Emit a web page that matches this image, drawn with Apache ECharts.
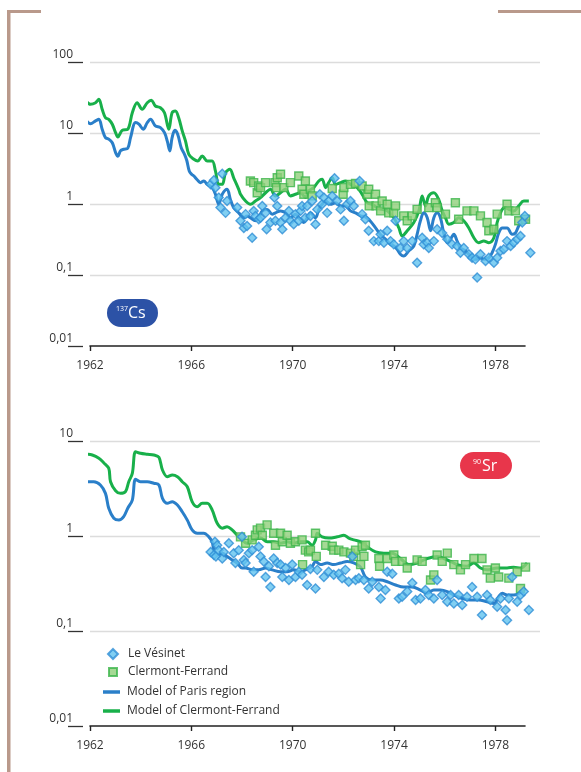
<!DOCTYPE html>
<html>
<head>
<meta charset="utf-8">
<script src="https://cdn.jsdelivr.net/npm/echarts@6/dist/echarts.min.js"></script>
<style>
  html, body { margin: 0; padding: 0; background: #fff; }
  #chart { width: 581px; height: 772px; }
</style>
</head>
<body>
<div id="chart"></div>
<script>
// year ticks shown on both x axes
var yearTicks = [1962, 1966, 1970, 1974, 1978];
var legendNames = ["Le Vésinet", "Clermont-Ferrand", "Model of Paris region", "Model of Clermont-Ferrand"];

// ---- 137Cs panel : [year, activity]
var csParisModel = [[1961.82,15.6],[1962.02,13.5],[1962.22,14.8],[1962.35,15.6],[1962.48,11.3],[1962.61,8.6],[1962.74,8.2],[1962.88,7.3],[1963.01,5.3],[1963.10,4.7],[1963.20,5.6],[1963.33,5.9],[1963.49,6.1],[1963.60,8.6],[1963.80,14.0],[1963.93,13.3],[1964.10,11.3],[1964.26,14.0],[1964.39,15.6],[1964.58,12.6],[1964.78,11.9],[1964.94,10.1],[1965.05,7.7],[1965.15,5.6],[1965.24,8.6],[1965.35,10.9],[1965.46,9.6],[1965.60,6.2],[1965.73,5.0],[1965.82,4.1],[1965.92,2.9],[1966.02,2.6],[1966.10,2.48],[1966.23,2.2],[1966.36,2.0],[1966.49,2.11],[1966.63,1.89],[1966.82,1.70],[1966.95,1.37],[1967.08,0.99],[1967.22,1.37],[1967.41,1.61],[1967.54,1.16],[1967.67,0.89],[1967.87,0.75],[1968.07,0.64],[1968.20,0.68],[1968.33,0.64],[1968.53,0.58],[1968.66,0.64],[1968.80,0.80],[1968.99,0.84],[1969.19,0.72],[1969.32,0.75],[1969.52,0.80],[1969.72,0.75],[1969.91,0.64],[1970.11,0.72],[1970.24,0.64],[1970.44,0.55],[1970.57,0.64],[1970.70,0.75],[1970.90,0.64],[1971.03,0.84],[1971.16,0.99],[1971.30,1.10],[1971.49,0.99],[1971.69,1.04],[1971.89,0.94],[1972.08,0.94],[1972.28,0.80],[1972.48,0.75],[1972.68,0.68],[1972.87,0.66],[1973.07,0.57],[1973.27,0.46],[1973.47,0.37],[1973.66,0.32],[1973.86,0.27],[1973.99,0.256],[1974.12,0.23],[1974.25,0.196],[1974.38,0.185],[1974.58,0.218],[1974.78,0.256],[1974.91,0.374],[1975.04,0.58],[1975.17,0.75],[1975.31,0.64],[1975.44,0.42],[1975.57,0.64],[1975.70,0.75],[1975.83,0.64],[1975.96,0.39],[1976.10,0.285],[1976.23,0.32],[1976.36,0.374],[1976.49,0.30],[1976.62,0.24],[1976.82,0.218],[1977.02,0.185],[1977.21,0.166],[1977.41,0.175],[1977.54,0.166],[1977.74,0.175],[1977.87,0.206],[1978.00,0.27],[1978.13,0.39],[1978.27,0.46],[1978.46,0.46],[1978.66,0.374],[1978.79,0.39],[1978.92,0.49],[1979.06,0.58],[1979.19,0.61],[1979.32,0.58]];

var csClermontModel = [[1961.82,28.9],[1962.02,25.4],[1962.22,26.7],[1962.35,29.8],[1962.48,21.6],[1962.61,16.4],[1962.74,15.6],[1962.88,13.3],[1963.01,10.1],[1963.10,8.8],[1963.27,10.9],[1963.49,11.3],[1963.67,19.3],[1963.86,26.7],[1964.06,21.6],[1964.26,26.7],[1964.42,28.9],[1964.58,24.0],[1964.78,22.7],[1964.94,19.3],[1965.11,11.3],[1965.24,19.3],[1965.37,20.4],[1965.50,16.4],[1965.64,10.7],[1965.77,7.7],[1965.90,5.0],[1966.10,4.26],[1966.25,4.03],[1966.43,4.74],[1966.63,4.03],[1966.82,4.03],[1966.95,2.92],[1967.08,1.89],[1967.22,1.89],[1967.35,2.76],[1967.52,3.08],[1967.67,2.34],[1967.87,1.61],[1967.94,1.37],[1968.14,1.10],[1968.33,0.99],[1968.53,1.10],[1968.73,1.23],[1968.93,1.44],[1969.12,1.61],[1969.32,1.30],[1969.52,1.44],[1969.72,1.61],[1969.91,1.30],[1970.11,1.37],[1970.31,1.44],[1970.50,1.23],[1970.63,1.52],[1970.83,1.70],[1971.03,2.11],[1971.16,2.23],[1971.30,1.70],[1971.42,2.0],[1971.56,2.34],[1971.69,1.89],[1971.89,2.0],[1972.08,2.11],[1972.28,1.89],[1972.54,1.70],[1972.74,1.37],[1972.94,1.04],[1973.14,0.99],[1973.33,0.89],[1973.53,0.84],[1973.73,0.80],[1973.99,0.64],[1974.19,0.46],[1974.32,0.354],[1974.52,0.42],[1974.78,0.55],[1974.98,0.80],[1975.11,1.30],[1975.24,0.94],[1975.37,1.30],[1975.57,1.44],[1975.76,1.16],[1975.90,0.80],[1976.03,0.64],[1976.16,0.52],[1976.36,0.55],[1976.55,0.64],[1976.75,0.58],[1976.95,0.46],[1977.15,0.335],[1977.34,0.285],[1977.54,0.30],[1977.74,0.285],[1977.94,0.335],[1978.07,0.55],[1978.20,0.75],[1978.36,0.89],[1978.53,0.84],[1978.72,0.80],[1978.92,0.94],[1979.12,1.10],[1979.32,1.10]];

var csVesinet = [[1966.76,1.89],[1966.89,2.16],[1966.95,1.70],[1967.08,1.23],[1967.15,0.89],[1967.22,2.67],[1967.35,0.75],[1967.41,1.10],[1967.81,0.89],[1967.94,0.58],[1968.07,0.46],[1968.14,0.72],[1968.20,0.49],[1968.40,0.335],[1968.46,0.80],[1968.53,0.68],[1968.66,0.61],[1968.73,0.64],[1968.80,0.94],[1968.93,0.75],[1968.97,0.44],[1969.12,0.55],[1969.28,1.23],[1969.32,0.58],[1969.39,0.94],[1969.52,0.55],[1969.59,0.44],[1969.72,0.64],[1969.85,0.80],[1969.91,0.58],[1970.04,0.52],[1970.11,0.72],[1970.24,0.58],[1970.31,0.80],[1970.37,0.94],[1970.50,0.64],[1970.57,0.94],[1970.70,0.68],[1970.77,1.10],[1970.90,0.52],[1970.97,0.84],[1971.07,1.37],[1971.16,0.99],[1971.23,1.23],[1971.36,0.75],[1971.42,1.10],[1971.56,1.30],[1971.65,2.30],[1971.76,1.10],[1971.89,0.84],[1972.02,0.58],[1972.15,0.99],[1972.28,1.10],[1972.41,0.94],[1972.64,2.11],[1972.74,0.72],[1972.87,0.61],[1973.00,0.42],[1973.20,0.30],[1973.40,0.30],[1973.47,0.374],[1973.60,0.285],[1973.73,0.42],[1973.86,0.30],[1973.99,0.27],[1974.06,0.58],[1974.25,0.24],[1974.38,0.30],[1974.52,0.24],[1974.72,0.30],[1974.91,0.149],[1975.11,0.335],[1975.17,0.27],[1975.31,0.285],[1975.37,0.24],[1975.57,0.30],[1975.70,0.44],[1975.90,0.39],[1976.10,0.32],[1976.29,0.27],[1976.49,0.256],[1976.62,0.206],[1976.75,0.24],[1976.95,0.196],[1977.08,0.175],[1977.21,0.166],[1977.28,0.092],[1977.41,0.196],[1977.61,0.157],[1977.74,0.175],[1977.94,0.149],[1978.07,0.175],[1978.20,0.218],[1978.33,0.23],[1978.46,0.30],[1978.60,0.256],[1978.72,0.285],[1978.86,0.32],[1978.99,0.354],[1979.06,0.55],[1979.16,0.68],[1979.38,0.206]];

var csClermont = [[1968.33,2.11],[1968.46,2.0],[1968.60,1.44],[1968.66,1.79],[1968.73,1.70],[1968.93,2.0],[1969.30,2.0],[1969.36,1.70],[1969.39,2.34],[1969.52,2.62],[1969.65,1.70],[1969.91,2.0],[1970.24,2.48],[1970.37,1.61],[1970.44,1.37],[1970.50,2.11],[1970.70,1.61],[1970.77,1.30],[1971.56,1.65],[1971.99,1.37],[1972.02,1.70],[1972.28,1.89],[1972.48,1.94],[1972.74,1.79],[1972.94,1.37],[1973.00,1.61],[1973.02,0.94],[1973.27,1.37],[1973.29,0.94],[1973.47,0.80],[1973.53,1.10],[1973.73,0.99],[1973.79,0.75],[1973.99,0.75],[1974.06,0.94],[1974.38,0.68],[1974.52,0.58],[1974.72,0.68],[1974.91,0.84],[1975.37,0.89],[1975.63,1.04],[1975.70,0.89],[1976.03,0.72],[1976.42,1.04],[1976.55,0.61],[1976.88,0.80],[1977.15,0.80],[1977.41,0.68],[1977.67,0.55],[1977.74,0.42],[1977.94,0.44],[1978.07,0.72],[1978.46,0.99],[1978.53,0.80],[1978.79,0.80],[1978.92,0.58],[1979.19,0.61]];

// ---- 90Sr panel : [year, activity]
var srParisModel = [[1961.89,3.73],[1962.15,3.73],[1962.41,3.44],[1962.61,2.81],[1962.74,1.96],[1962.94,1.54],[1963.14,1.47],[1963.33,1.60],[1963.49,1.96],[1963.67,2.39],[1963.80,3.95],[1963.99,3.73],[1964.26,3.73],[1964.52,3.59],[1964.72,3.44],[1964.86,2.49],[1965.05,2.21],[1965.25,2.30],[1965.45,2.12],[1965.64,1.80],[1965.84,1.47],[1966.03,1.16],[1966.23,1.07],[1966.49,1.07],[1966.69,0.98],[1966.82,0.87],[1966.89,0.71],[1967.02,0.63],[1967.22,0.66],[1967.41,0.61],[1967.61,0.56],[1967.81,0.52],[1968.00,0.46],[1968.14,0.46],[1968.40,0.44],[1968.66,0.44],[1968.93,0.46],[1969.19,0.44],[1969.52,0.42],[1969.78,0.42],[1970.04,0.44],[1970.31,0.42],[1970.50,0.44],[1970.77,0.48],[1970.90,0.54],[1971.10,0.50],[1971.36,0.52],[1971.62,0.50],[1971.89,0.52],[1972.15,0.54],[1972.41,0.52],[1972.68,0.47],[1972.87,0.37],[1973.14,0.344],[1973.47,0.344],[1973.73,0.33],[1974.06,0.305],[1974.38,0.29],[1974.72,0.29],[1975.04,0.27],[1975.31,0.25],[1975.57,0.27],[1975.83,0.27],[1976.10,0.26],[1976.36,0.239],[1976.69,0.22],[1977.02,0.212],[1977.34,0.212],[1977.67,0.203],[1977.94,0.195],[1978.13,0.23],[1978.27,0.249],[1978.46,0.239],[1978.72,0.239],[1978.92,0.249],[1979.19,0.28]];

var srClermontModel = [[1961.89,7.25],[1962.09,7.12],[1962.35,6.58],[1962.54,5.91],[1962.74,5.16],[1962.81,3.73],[1963.01,3.0],[1963.20,2.81],[1963.40,2.93],[1963.53,3.73],[1963.67,4.57],[1963.80,7.71],[1963.99,7.42],[1964.26,7.25],[1964.52,7.12],[1964.72,6.74],[1964.86,4.95],[1965.05,4.21],[1965.25,4.39],[1965.45,4.21],[1965.64,3.73],[1965.84,3.30],[1966.03,2.30],[1966.23,2.03],[1966.43,2.21],[1966.63,2.21],[1966.82,1.88],[1967.02,1.36],[1967.22,1.21],[1967.41,1.25],[1967.61,1.16],[1967.81,1.02],[1967.94,0.95],[1968.20,0.84],[1968.46,0.91],[1968.73,0.95],[1968.99,0.87],[1969.25,0.87],[1969.52,0.84],[1969.78,0.87],[1970.04,0.84],[1970.31,0.87],[1970.57,0.87],[1970.77,0.80],[1970.90,0.91],[1970.97,1.07],[1971.16,0.98],[1971.42,0.95],[1971.76,0.98],[1972.02,1.02],[1972.21,0.95],[1972.41,0.91],[1972.68,0.87],[1972.94,0.77],[1973.27,0.68],[1973.60,0.66],[1973.93,0.66],[1974.25,0.58],[1974.58,0.50],[1974.91,0.52],[1975.31,0.58],[1975.70,0.61],[1975.96,0.58],[1976.23,0.54],[1976.49,0.50],[1976.88,0.48],[1977.15,0.52],[1977.41,0.46],[1977.67,0.44],[1978.07,0.46],[1978.46,0.46],[1978.72,0.47],[1978.99,0.46],[1979.25,0.52]];

var srVesinet = [[1966.76,0.68],[1966.89,0.63],[1966.93,0.87],[1966.97,0.61],[1967.02,0.80],[1967.08,0.71],[1967.22,0.58],[1967.28,0.68],[1967.48,0.84],[1967.67,0.66],[1967.74,0.52],[1967.87,0.71],[1968.00,0.98],[1968.07,0.56],[1968.14,0.52],[1968.27,0.66],[1968.40,0.71],[1968.46,0.42],[1968.66,0.77],[1968.73,0.61],[1968.86,0.54],[1968.93,0.37],[1969.06,0.48],[1969.12,0.29],[1969.25,0.58],[1969.39,0.52],[1969.52,0.50],[1969.59,0.37],[1969.72,0.46],[1969.85,0.344],[1969.98,0.50],[1970.11,0.37],[1970.24,0.42],[1970.37,0.39],[1970.57,0.305],[1970.70,0.45],[1970.90,0.28],[1970.97,0.44],[1971.23,0.37],[1971.42,0.42],[1971.62,0.39],[1971.82,0.40],[1971.95,0.36],[1972.08,0.44],[1972.21,0.33],[1972.35,0.61],[1972.48,0.344],[1972.61,0.36],[1972.81,0.344],[1973.00,0.28],[1973.14,0.33],[1973.40,0.29],[1973.47,0.22],[1973.66,0.27],[1973.73,0.42],[1973.93,0.40],[1974.19,0.22],[1974.32,0.23],[1974.52,0.26],[1974.72,0.32],[1974.85,0.212],[1975.04,0.22],[1975.24,0.27],[1975.37,0.239],[1975.57,0.22],[1975.70,0.344],[1975.90,0.239],[1976.10,0.203],[1976.23,0.239],[1976.36,0.195],[1976.55,0.239],[1976.69,0.188],[1976.88,0.23],[1977.08,0.29],[1977.28,0.23],[1977.47,0.147],[1977.67,0.239],[1977.80,0.212],[1978.07,0.18],[1978.20,0.22],[1978.40,0.166],[1978.46,0.13],[1978.53,0.22],[1978.66,0.37],[1978.86,0.203],[1978.99,0.239],[1979.12,0.26],[1979.32,0.166]];

var srClermont = [[1967.94,0.98],[1968.14,0.84],[1968.40,0.91],[1968.53,1.02],[1968.60,1.16],[1968.73,1.21],[1968.80,1.02],[1968.99,1.31],[1969.25,1.07],[1969.32,0.80],[1969.52,1.07],[1969.59,0.87],[1969.78,1.02],[1969.91,0.84],[1970.11,0.87],[1970.37,0.91],[1970.39,0.50],[1970.50,0.71],[1970.63,0.68],[1970.70,0.71],[1970.90,1.07],[1970.93,0.61],[1971.30,0.80],[1971.56,0.78],[1971.62,0.71],[1971.82,0.71],[1972.02,0.68],[1972.28,0.66],[1972.41,0.61],[1972.48,0.71],[1972.68,0.50],[1972.74,0.77],[1972.81,0.61],[1972.87,0.80],[1973.40,0.58],[1973.43,0.48],[1973.73,0.58],[1973.99,0.63],[1974.06,0.54],[1974.32,0.54],[1974.52,0.46],[1974.91,0.56],[1975.11,0.54],[1975.44,0.344],[1975.57,0.39],[1975.70,0.63],[1975.90,0.54],[1976.10,0.66],[1976.36,0.50],[1976.62,0.44],[1976.82,0.50],[1977.15,0.58],[1977.47,0.58],[1977.67,0.44],[1977.80,0.36],[1978.00,0.46],[1978.13,0.37],[1978.53,0.36],[1978.86,0.42],[1978.99,0.28],[1979.19,0.47]];

var BLUE = "#2a7fc9";
var GREEN = "#18b04a";
var TEXT = "#333333";
var FONT = "Open Sans";

function fmtLog(v) {
  return String(+Number(v).toPrecision(3)).replace(".", ",");
}

// grid pairs: data/grid-lines grid (wide) + x-axis grid (axis line ends earlier)
function panelAxes(top, height, logMax, gi) {
  return {
    grids: [
      { left: 90, right: 41, top: top, height: height },
      { left: 90, width: 435, top: top, height: height }
    ],
    xAxes: [
      { type: "value", gridIndex: gi, min: 1962, max: 1979.76, show: false },
      {
        type: "value", gridIndex: gi + 1, min: 1962, max: 1979.17, interval: 4,
        axisLine: { show: true, lineStyle: { color: "#222", width: 1.6 } },
        axisTick: { show: true, length: 5, customValues: yearTicks, lineStyle: { color: "#222", width: 1.4 } },
        axisLabel: {
          customValues: yearTicks, margin: 14, color: TEXT, fontSize: 12, fontFamily: FONT,
          formatter: function (v) { return String(Math.round(v)); }
        },
        splitLine: { show: false }
      }
    ],
    yAxes: [
      {
        type: "log", logBase: 10, gridIndex: gi, min: 0.01, max: logMax, offset: 7,
        axisLine: { show: false },
        axisTick: { show: true, length: 15, lineStyle: { color: "#333", width: 1.3 } },
        axisLabel: {
          margin: 10, color: TEXT, fontSize: 12, fontFamily: FONT,
          verticalAlign: "bottom", lineHeight: 14, formatter: fmtLog
        },
        splitLine: { show: true, showMinLine: false, lineStyle: { color: "#dcdcdc", width: 1.3 } }
      },
      { type: "log", logBase: 10, gridIndex: gi + 1, min: 0.01, max: logMax, show: false }
    ]
  };
}

function lineSeries(name, data, color, xi) {
  return {
    name: name, type: "line", xAxisIndex: xi, yAxisIndex: xi, data: data,
    symbol: "none", smooth: 0.35, clip: false, z: 2,
    lineStyle: { color: color, width: 3 }, itemStyle: { color: color }
  };
}

function diamondSeries(data, xi) {
  return {
    name: legendNames[0], type: "scatter", xAxisIndex: xi, yAxisIndex: xi, data: data,
    symbol: "diamond", symbolSize: 9, clip: false, z: 4,
    itemStyle: { color: "#62c3ef", borderColor: "#2f8fd6", borderWidth: 1.4 }
  };
}

function squareSeries(data, xi) {
  return {
    name: legendNames[1], type: "scatter", xAxisIndex: xi, yAxisIndex: xi, data: data,
    symbol: "rect", symbolSize: 8, clip: false, z: 3,
    itemStyle: { color: "#90d07a", borderColor: "#3cb54b", borderWidth: 1.4 }
  };
}

// one legend block per row so every icon keeps its own size
function legendRow(name, icon, left, top, w, h, pad) {
  return {
    data: [{ name: name, icon: icon }],
    orient: "vertical", left: left, top: top,
    itemWidth: w, itemHeight: h, padding: 0,
    textStyle: { color: TEXT, fontSize: 12, fontFamily: FONT, lineHeight: 14, padding: [0, 0, 0, pad] }
  };
}

var topP = panelAxes(62, 284, 100, 0);
var botP = panelAxes(441, 285, 10, 2);

var chart = echarts.init(document.getElementById("chart"), null, { renderer: "canvas" });

var option = {
  backgroundColor: "#fff",
  animation: false,
  grid: topP.grids.concat(botP.grids),
  xAxis: topP.xAxes.concat(botP.xAxes),
  yAxis: topP.yAxes.concat(botP.yAxes),
  legend: [
    legendRow(legendNames[0], "diamond", 107, 647, 10, 10, 5),
    legendRow(legendNames[1], "rect", 108, 665, 8, 8, 6),
    legendRow(legendNames[2], "rect", 103, 685, 17, 3.5, 2),
    legendRow(legendNames[3], "rect", 103, 704, 17, 3.5, 2)
  ],
  series: [
    lineSeries(legendNames[3], csClermontModel, GREEN, 0),
    lineSeries(legendNames[2], csParisModel, BLUE, 0),
    squareSeries(csClermont, 0),
    diamondSeries(csVesinet, 0),
    lineSeries(legendNames[3], srClermontModel, GREEN, 2),
    lineSeries(legendNames[2], srParisModel, BLUE, 2),
    squareSeries(srClermont, 2),
    diamondSeries(srVesinet, 2)
  ],
  graphic: [
    // page frame corners
    { type: "rect", shape: { x: 7, y: 10, width: 3.5, height: 762 }, style: { fill: "#b9998b" } },
    { type: "rect", shape: { x: 7, y: 10, width: 34, height: 3 }, style: { fill: "#b9998b" } },
    { type: "rect", shape: { x: 498, y: 10, width: 83, height: 3 }, style: { fill: "#b9998b" } },
    // 137Cs badge
    { type: "rect", shape: { x: 107, y: 299, width: 51, height: 28, r: 14 }, style: { fill: "#2c52a6" } },
    { type: "text", x: 116, y: 305, style: { text: "137", fill: "#fff", fontSize: 7, fontFamily: FONT } },
    { type: "text", x: 128, y: 305, style: { text: "Cs", fill: "#fff", fontSize: 16, fontFamily: FONT } },
    // 90Sr badge
    { type: "rect", shape: { x: 460, y: 452, width: 52, height: 27, r: 13.5 }, style: { fill: "#e8364b" } },
    { type: "text", x: 473, y: 458, style: { text: "90", fill: "#fff", fontSize: 7, fontFamily: FONT } },
    { type: "text", x: 482, y: 458, style: { text: "Sr", fill: "#fff", fontSize: 16, fontFamily: FONT } }
  ]
};

chart.setOption(option);
</script>
</body>
</html>
